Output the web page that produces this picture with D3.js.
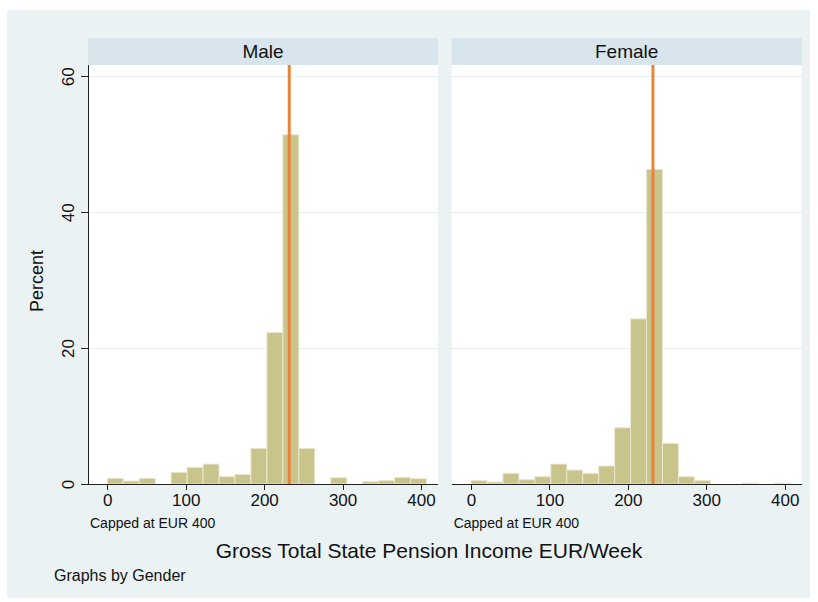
<!DOCTYPE html>
<html>
<head>
<meta charset="utf-8">
<script src="https://cdn.jsdelivr.net/npm/d3@7"></script>
<style>
    body { margin: 0; background: #ffffff; }
    text { font-family: "Liberation Sans", Arial, sans-serif; fill: #111; }
    .axis path, .axis line { stroke: #222; stroke-width: 1px; shape-rendering: crispEdges; }
    .axis text { font-size: 17px; }
    .grid { stroke: #e9eff1; stroke-width: 1px; shape-rendering: crispEdges; }
    .bar { fill: #c9c38c; stroke: #ebe8cc; stroke-width: 1px; }
    .refLine { stroke: #e8833a; stroke-width: 3px; }
    .stripText { font-size: 19px; }
    .note { font-size: 14px; }
</style>
</head>
<body>
<div id="chart"></div>
<script>
// percent of people in each 20.35 EUR wide bin (0 .. ~407, capped at 400)
var binWidth = 20.35;
var malePercent = [0.84, 0.44, 0.84, 0, 1.72, 2.45, 2.94, 1.08, 1.42, 5.25,
                   22.3, 51.4, 5.25, 0, 0.93, 0, 0.34, 0.49, 0.98, 0.78];
var femalePercent = [0.49, 0.29, 1.57, 0.64, 1.08, 2.94, 2.06, 1.57, 2.65, 8.28,
                     24.3, 46.3, 5.98, 1.08, 0.49, 0, 0, 0.12, 0, 0.12];
var panelNames = ["Male", "Female"];
var xTicks = [0, 100, 200, 300, 400];
var yTicks = [0, 20, 40, 60];
var refValue = 232;   // orange reference line

var width = 818, height = 602;

var svg = d3.select("#chart").append("svg")
    .attr("width", width)
    .attr("height", height);

// outer graph region
svg.append("rect")
    .attr("x", 7).attr("y", 10)
    .attr("width", 803).attr("height", 588)
    .style("fill", "#eaf2f4");

var y = d3.scaleLinear()
    .domain([0, 60])
    .range([484, 76.3]);

/**
 * One panel of the by() histogram
 */
function HistogramPanel(name, values, left, showYAxis){
    var self = this;
    self.name = name;
    self.values = values;
    self.left = left;
    self.panelWidth = 350;
    self.top = 38;
    self.stripHeight = 27;
    self.showYAxis = showYAxis;
    self.init();
};

HistogramPanel.prototype.init = function(){
    var self = this;
    self.g = svg.append("g");

    self.x = d3.scaleLinear()
        .domain([0, 400])
        .range([self.left + 19.3, self.left + 333]);

    // white plot region
    self.g.append("rect")
        .attr("x", self.left)
        .attr("y", self.top + self.stripHeight)
        .attr("width", self.panelWidth)
        .attr("height", y(0) - self.top - self.stripHeight)
        .style("fill", "#ffffff");

    // title strip
    self.g.append("rect")
        .attr("x", self.left)
        .attr("y", self.top)
        .attr("width", self.panelWidth)
        .attr("height", self.stripHeight)
        .style("fill", "#d9e5ec");

    self.g.append("text")
        .attr("class", "stripText")
        .attr("x", self.left + self.panelWidth / 2)
        .attr("y", self.top + 20)
        .attr("text-anchor", "middle")
        .text(self.name);
};

HistogramPanel.prototype.update = function(){
    var self = this;

    //horizontal grid lines
    self.g.selectAll("line.grid")
        .data(yTicks.filter(function(d){ return d > 0; }))
        .enter()
        .append("line")
        .attr("class", "grid")
        .attr("x1", self.left)
        .attr("x2", self.left + self.panelWidth)
        .attr("y1", function(d){ return y(d); })
        .attr("y2", function(d){ return y(d); });

    // keep the bin index with each value, then drop the empty bins
    var bins = self.values
        .map(function(v, i){ return {bin: i, pct: v}; })
        .filter(function(d){ return d.pct > 0; });

    self.g.selectAll("rect.bar")
        .data(bins)
        .enter()
        .append("rect")
        .attr("class", "bar")
        .attr("x", function(d){ return self.x(d.bin * binWidth); })
        .attr("width", function(d){ return self.x((d.bin + 1) * binWidth) - self.x(d.bin * binWidth); })
        .attr("y", function(d){ return y(d.pct); })
        .attr("height", function(d){ return y(0) - y(d.pct); });

    self.g.append("line")
        .attr("class", "refLine")
        .attr("x1", self.x(refValue))
        .attr("x2", self.x(refValue))
        .attr("y1", self.top + self.stripHeight)
        .attr("y2", y(0));

    var xAxis = d3.axisBottom(self.x)
        .tickValues(xTicks)
        .tickSize(6)
        .tickPadding(4)
        .tickSizeOuter(0);

    var xg = self.g.append("g")
        .attr("class", "axis")
        .attr("transform", "translate(0," + y(0) + ")")
        .call(xAxis);
    // stretch the axis line across the whole panel
    xg.select(".domain")
        .attr("d", "M" + self.left + ",0H" + (self.left + self.panelWidth));

    self.g.append("text")
        .attr("class", "note")
        .attr("x", self.left + 2)
        .attr("y", 528)
        .text("Capped at EUR 400");

    if (self.showYAxis){
        var yAxis = d3.axisLeft(y)
            .tickValues(yTicks)
            .tickSize(7)
            .tickSizeOuter(0);

        var yg = self.g.append("g")
            .attr("class", "axis")
            .attr("transform", "translate(" + self.left + ",0)")
            .call(yAxis);
        yg.select(".domain")
            .attr("d", "M0," + (self.top + self.stripHeight) + "V" + y(0));
        yg.selectAll(".tick text")
            .attr("transform", "rotate(-90)")
            .attr("x", 0)
            .attr("y", -14)
            .attr("dy", 0)
            .attr("text-anchor", "middle");
    }
};

var panels = [
    new HistogramPanel(panelNames[0], malePercent, 88, true),
    new HistogramPanel(panelNames[1], femalePercent, 451.7, false)
];
panels.forEach(function(p){ p.update(); });

svg.append("text")
    .attr("transform", "translate(43,281) rotate(-90)")
    .attr("text-anchor", "middle")
    .style("font-size", "18px")
    .text("Percent");

svg.append("text")
    .attr("x", 429)
    .attr("y", 558)
    .attr("text-anchor", "middle")
    .style("font-size", "21px")
    .text("Gross Total State Pension Income EUR/Week");

svg.append("text")
    .attr("x", 54)
    .attr("y", 581)
    .style("font-size", "16px")
    .text("Graphs by Gender");
</script>
</body>
</html>
